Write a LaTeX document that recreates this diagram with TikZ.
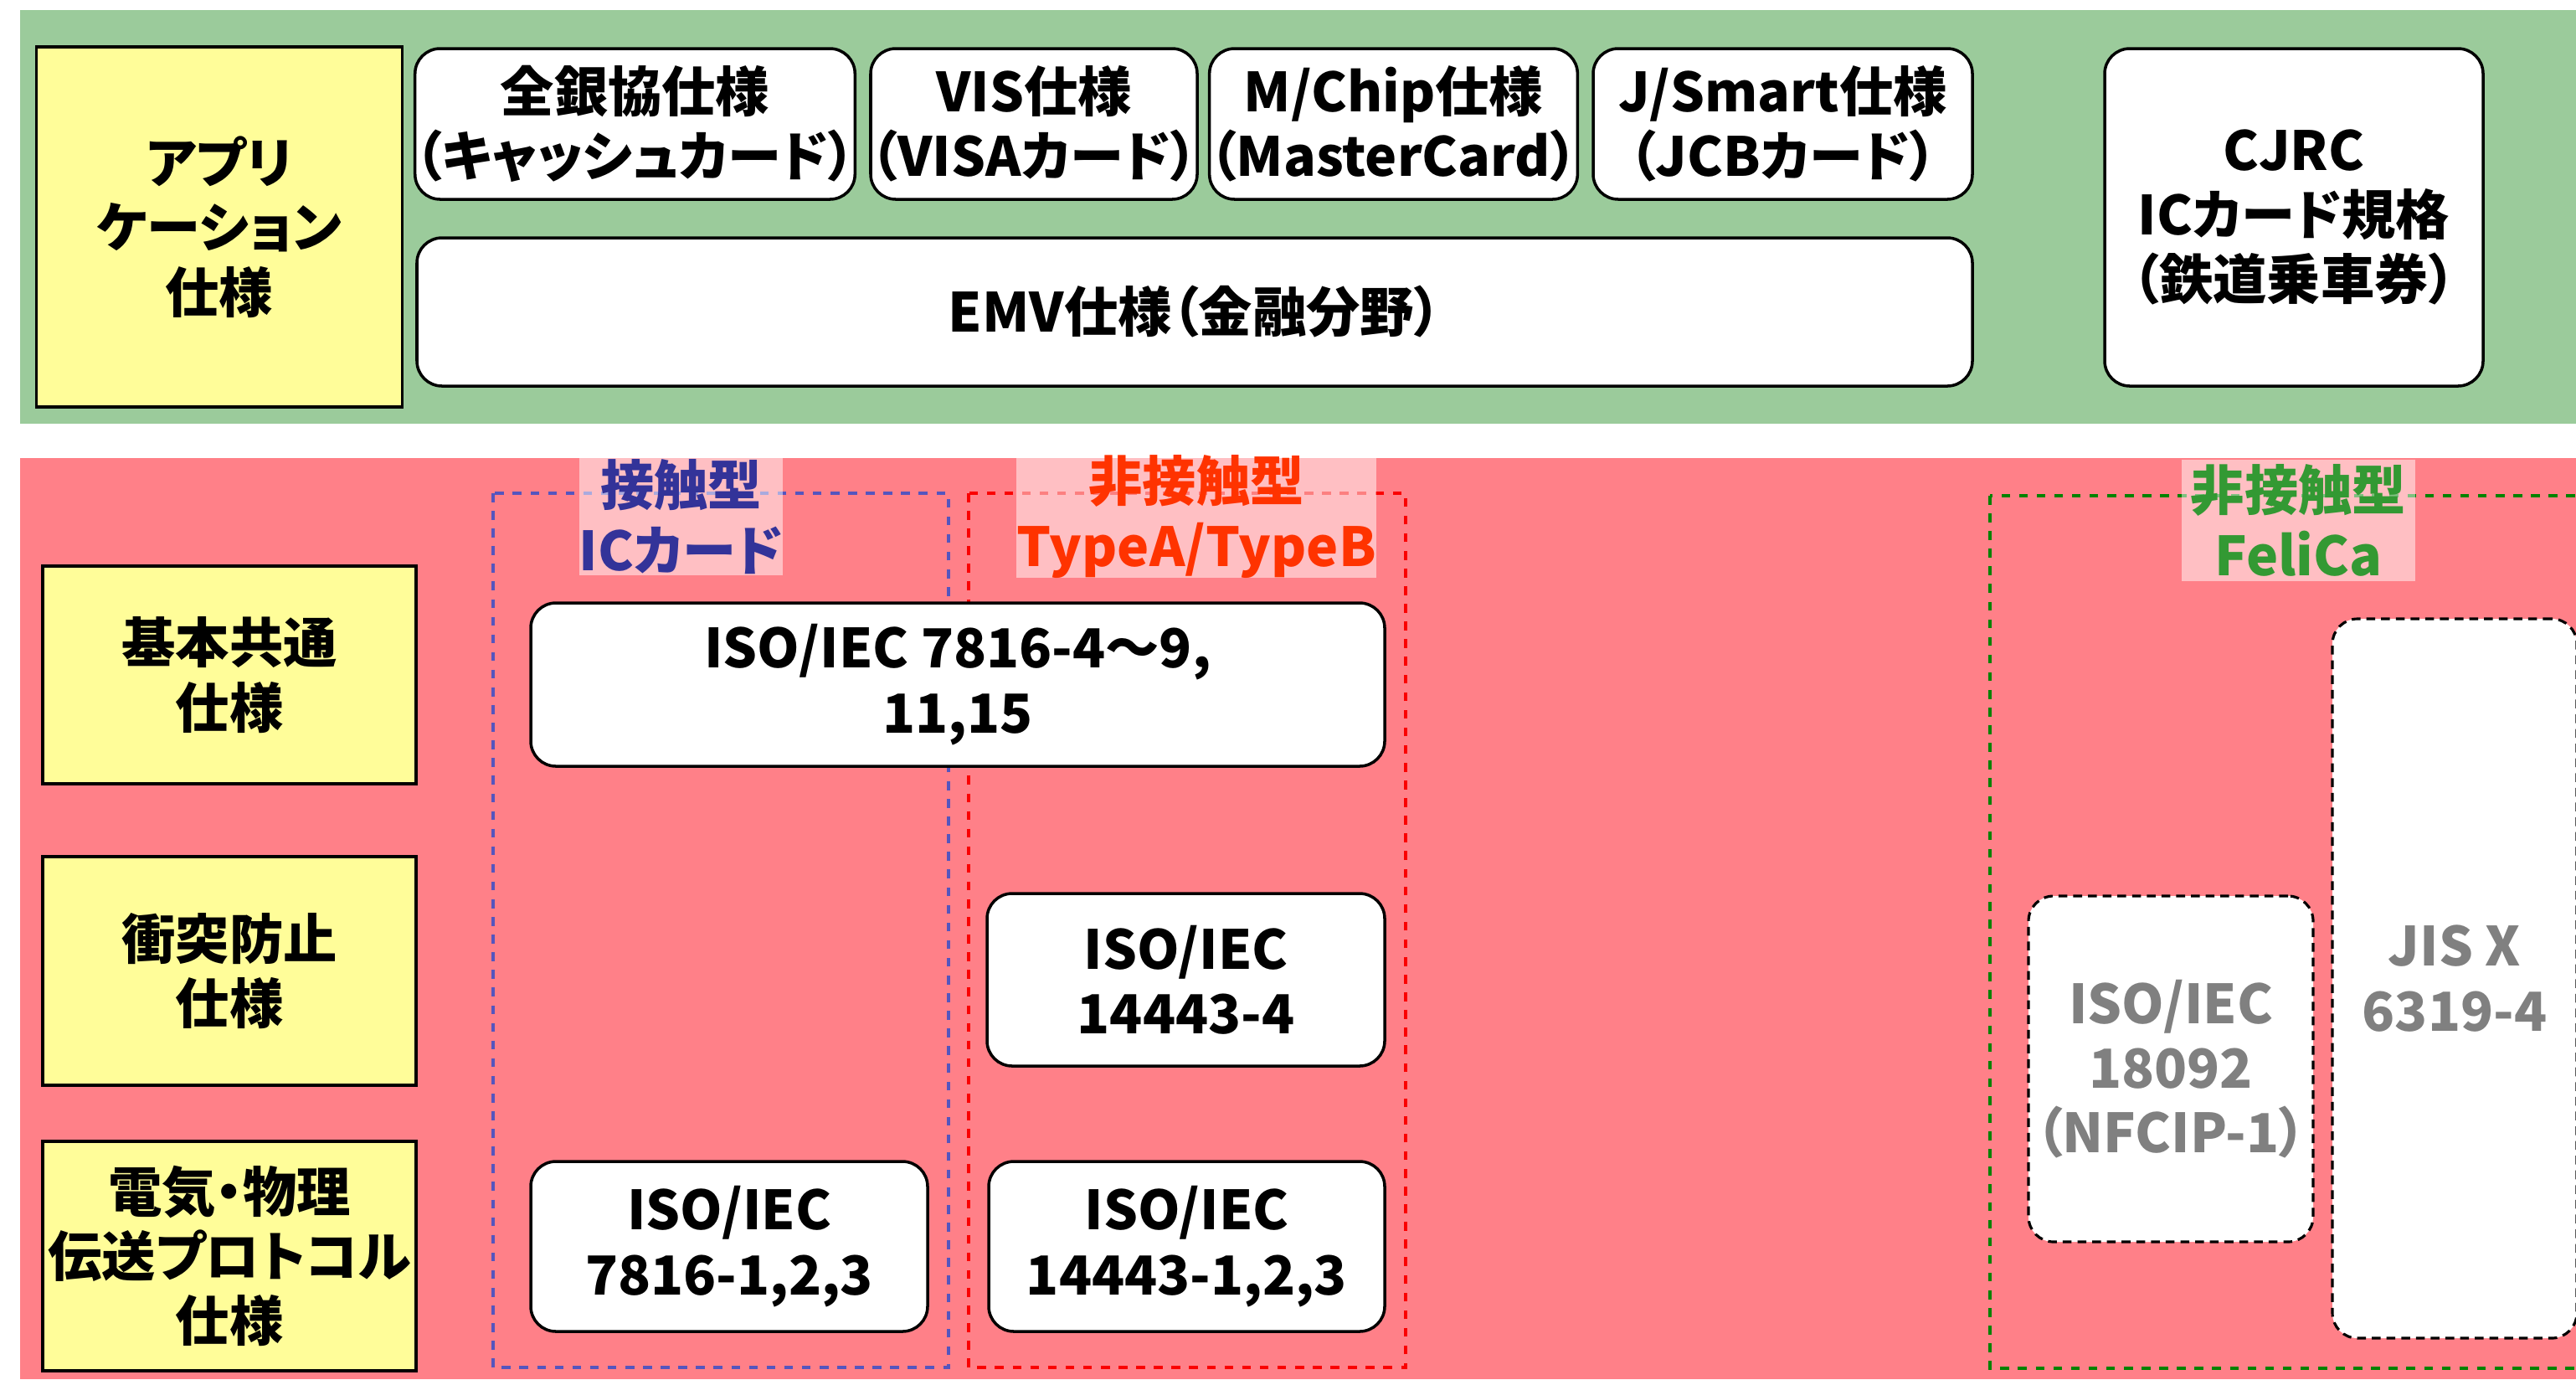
\documentclass[tikz,border=0pt]{standalone}
\usepackage{fontspec}
\setmainfont{Noto Sans CJK JP}[RawFeature=+palt]
\definecolor{bandgreen}{RGB}{155,203,155}
\definecolor{bandred}{RGB}{255,128,136}
\definecolor{specyellow}{RGB}{255,253,153}
\definecolor{tagblue}{RGB}{51,51,153}
\definecolor{tagred}{RGB}{255,51,0}
\definecolor{taggreen}{RGB}{51,153,51}
\definecolor{lineblue}{RGB}{85,85,190}
\definecolor{linered}{RGB}{250,0,0}
\definecolor{linegreen}{RGB}{0,130,0}
\definecolor{textgray}{RGB}{128,128,128}
\newcommand{\specfont}{\fontsize{18.3}{22}\selectfont}
\begin{document}
\begin{tikzpicture}[
  spec/.style={draw=black,line width=1pt,fill=white,rounded corners=0.3cm,align=center,font=\specfont\bfseries,inner sep=0pt},
  layer/.style={draw=black,line width=1pt,fill=specyellow,align=center,font=\specfont\bfseries,inner sep=0pt},
  tag/.style={fill=white,fill opacity=0.5,text opacity=1,align=center,font=\specfont\bfseries,inner sep=0pt},
  felica/.style={draw=black,densely dashed,line width=0.9pt,fill=white,rounded corners=0.3cm,align=center,font=\specfont\bfseries,text=textgray,inner sep=0pt},
  group/.style={dashed,line width=1pt}
]
\clip (0,0) rectangle (30.77,-16.47);
\fill[white] (0,0) rectangle (30.77,-16.47);
% application layer
\fill[bandgreen] (0.24,-0.12) rectangle (30.77,-5.06);
\node[layer,minimum width=4.37cm,minimum height=4.30cm] (app) at (2.62,-2.71) {アプリ\\ケーション\\仕様};
\node[spec,minimum width=5.21cm,minimum height=1.80cm] (zengin) at (7.585,-1.48) {全銀協仕様\\（キャッシュカード）};
\node[spec,minimum width=3.825cm,minimum height=1.80cm] (vis) at (12.35,-1.48) {VIS仕様\\（VISAカード）};
\node[spec,minimum width=4.29cm,minimum height=1.80cm] (mchip) at (16.645,-1.48) {M/Chip仕様\\（MasterCard）};
\node[spec,minimum width=4.53cm,minimum height=1.80cm] (jsmart) at (21.295,-1.48) {J/Smart仕様\\（JCBカード）};
\node[spec,minimum width=18.58cm,minimum height=1.77cm] (emv) at (14.27,-3.725) {EMV仕様（金融分野）};
\node[spec,minimum width=4.52cm,minimum height=4.03cm] (cjrc) at (27.40,-2.595) {CJRC\\ICカード規格\\（鉄道乗車券）};
% card layers
\fill[bandred] (0.24,-5.47) rectangle (30.77,-16.47);
\node[layer,minimum width=4.46cm,minimum height=2.60cm] (basic) at (2.74,-8.06) {基本共通\\仕様};
\node[layer,minimum width=4.46cm,minimum height=2.73cm] (anticol) at (2.74,-11.595) {衝突防止\\仕様};
\node[layer,minimum width=4.46cm,minimum height=2.74cm] (phys) at (2.74,-15.0) {電気・物理\\伝送プロトコル\\仕様};
\draw[group,lineblue] (5.89,-5.89) rectangle (11.33,-16.33);
\draw[group,linered] (11.57,-5.89) rectangle (16.79,-16.33);
\draw[group,linegreen] (23.77,-5.92) rectangle (31.5,-16.34);
\node[tag,text=tagblue,minimum width=2.39cm,minimum height=1.40cm] (contact) at (8.135,-6.17) {接触型\\ICカード};
\node[tag,text=tagred,minimum width=4.0cm,minimum height=1.40cm] (typeab) at (14.29,-6.17) {非接触型\\TypeA/TypeB};
\node[tag,text=taggreen,minimum width=2.79cm,minimum height=1.45cm] (felicatag) at (27.455,-6.215) {非接触型\\FeliCa};
\node[spec,minimum width=10.2cm,minimum height=1.95cm] (iso7816b) at (11.44,-8.175) {ISO/IEC 7816-4～9,\\11,15};
\node[spec,minimum width=4.75cm,minimum height=2.06cm] (iso14443b) at (14.165,-11.70) {ISO/IEC\\14443-4};
\node[spec,minimum width=4.74cm,minimum height=2.03cm] (iso7816a) at (8.71,-14.885) {ISO/IEC\\7816-1,2,3};
\node[spec,minimum width=4.73cm,minimum height=2.03cm] (iso14443a) at (14.175,-14.885) {ISO/IEC\\14443-1,2,3};
\node[felica,minimum width=3.40cm,minimum height=4.13cm] (nfcip) at (25.93,-12.765) {ISO/IEC\\18092\\（NFCIP-1）};
\node[felica,minimum width=2.92cm,minimum height=8.59cm] (jisx) at (29.32,-11.685) {JIS X\\6319-4};
\end{tikzpicture}
\end{document}
